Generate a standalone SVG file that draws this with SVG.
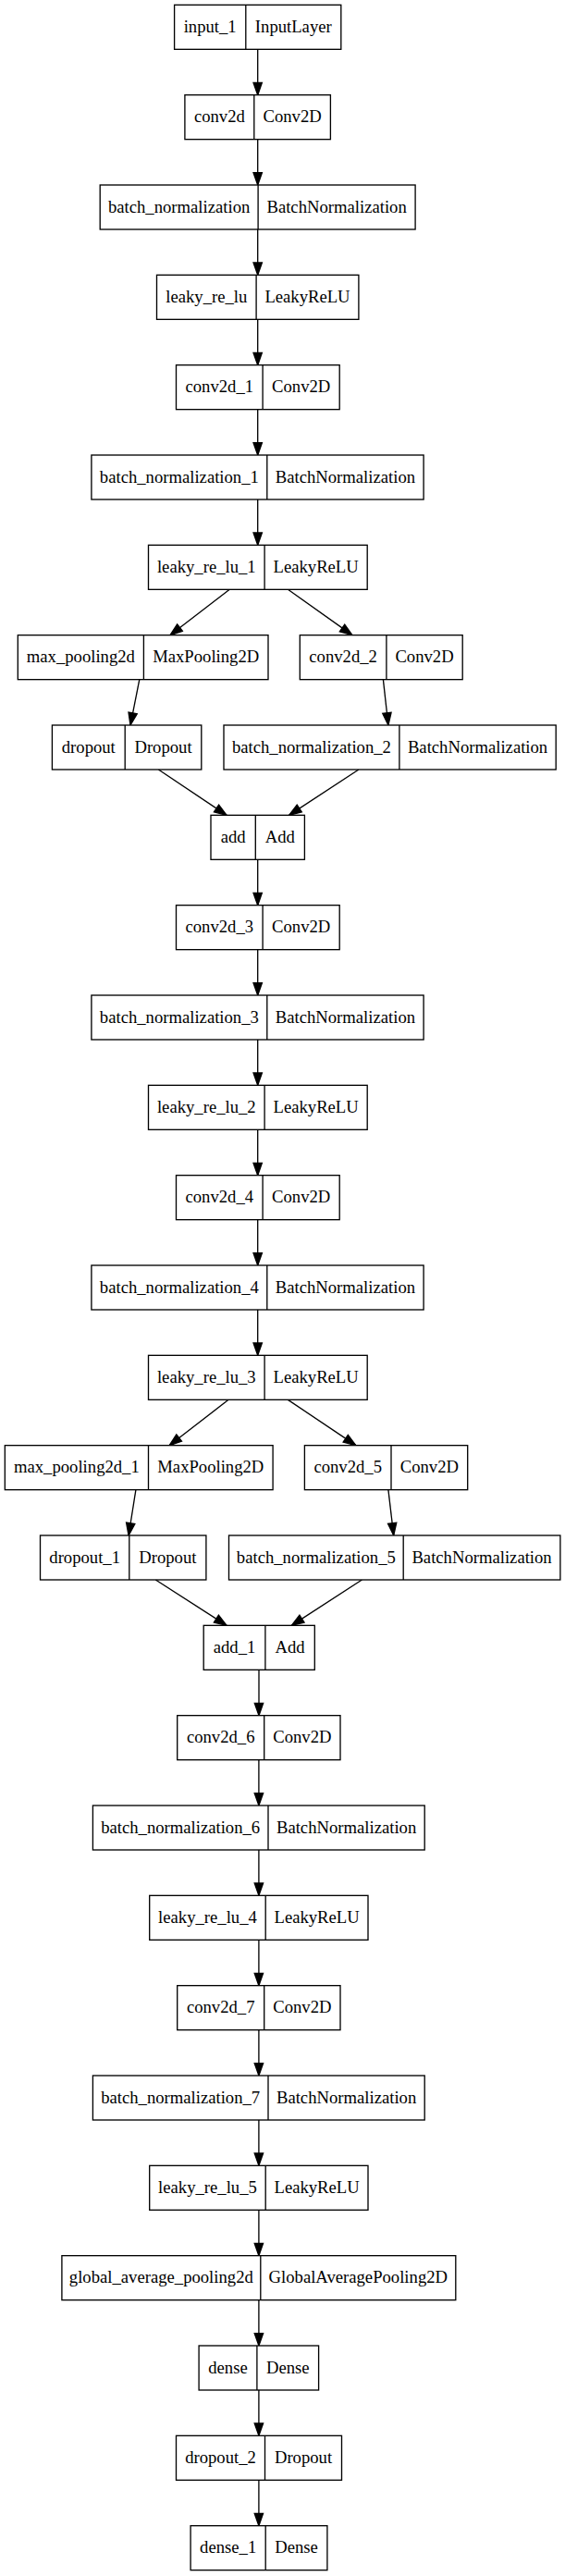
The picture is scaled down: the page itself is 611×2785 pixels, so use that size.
<svg xmlns="http://www.w3.org/2000/svg" width="611" height="2785" viewBox="0 0 611 2785">
<style>
.b{fill:#fff;stroke:#000;stroke-width:1.33}
.d{stroke:#000;stroke-width:1.33}
.t{font-family:"Liberation Serif","Times New Roman",serif;font-size:18.67px;fill:#000;text-anchor:middle}
.e{fill:none;stroke:#000;stroke-width:1.33;marker-end:url(#arr)}
</style>
<defs>
<marker id="arr" markerUnits="userSpaceOnUse" markerWidth="18" markerHeight="14" viewBox="-2 -7 18 14" refX="13.33" refY="0" orient="auto">
<path d="M0,-4.67 L13.33,0 L0,4.67 z" fill="#000" stroke="#000" stroke-width="1.33"/>
</marker>
</defs>
<rect x="0" y="0" width="611" height="2785" fill="#fff"/>
<g id="edges">
<path class="e" d="M278.7,53.33 V102.66"/>
<path class="e" d="M278.7,150.66 V200"/>
<path class="e" d="M278.7,248 V297.33"/>
<path class="e" d="M278.7,345.33 V394.66"/>
<path class="e" d="M278.7,442.66 V492"/>
<path class="e" d="M278.7,540 V589.33"/>
<path class="e" d="M248.3,637.33 L183.9,686.66"/>
<path class="e" d="M311.4,637.33 L380.9,686.66"/>
<path class="e" d="M150.8,734.66 L141,784"/>
<path class="e" d="M414.4,734.66 L419.9,784"/>
<path class="e" d="M171.4,832 L245.1,881.33"/>
<path class="e" d="M387.9,832 L312.6,881.33"/>
<path class="e" d="M278.7,929.33 V978.66"/>
<path class="e" d="M278.7,1026.66 V1076"/>
<path class="e" d="M278.7,1124 V1173.33"/>
<path class="e" d="M278.7,1221.33 V1270.66"/>
<path class="e" d="M278.7,1318.66 V1368"/>
<path class="e" d="M278.7,1416 V1465.33"/>
<path class="e" d="M247.1,1513.33 L183.1,1562.66"/>
<path class="e" d="M311.4,1513.33 L384.8,1562.66"/>
<path class="e" d="M146.9,1610.66 L139.1,1660"/>
<path class="e" d="M419.9,1610.66 L425.7,1660"/>
<path class="e" d="M168.3,1708 L245.1,1757.33"/>
<path class="e" d="M391.4,1708 L315.3,1757.33"/>
<path class="e" d="M280,1805.33 V1854.66"/>
<path class="e" d="M279.9,1902.66 V1952"/>
<path class="e" d="M279.9,2000 V2049.33"/>
<path class="e" d="M279.9,2097.33 V2146.66"/>
<path class="e" d="M279.9,2194.66 V2244"/>
<path class="e" d="M279.9,2292 V2341.33"/>
<path class="e" d="M279.9,2389.33 V2438.66"/>
<path class="e" d="M279.9,2486.66 V2536"/>
<path class="e" d="M279.9,2584 V2633.33"/>
<path class="e" d="M279.9,2681.33 V2730.66"/>
</g>
<g id="input_1"><rect class="b" x="188.6" y="5.33" width="180.2" height="48"/><line class="d" x1="265.8" y1="5.33" x2="265.8" y2="53.33"/><text class="t" x="227.2" y="34.8">input_1</text><text class="t" x="317.3" y="34.8">InputLayer</text></g>
<g id="conv2d"><rect class="b" x="199.9" y="102.66" width="157.5" height="48"/><line class="d" x1="274.8" y1="102.66" x2="274.8" y2="150.66"/><text class="t" x="237.35" y="132.1">conv2d</text><text class="t" x="316.1" y="132.1">Conv2D</text></g>
<g id="batch_normalization"><rect class="b" x="108.2" y="200" width="340.9" height="48"/><line class="d" x1="279.1" y1="200" x2="279.1" y2="248"/><text class="t" x="193.65" y="229.5">batch_normalization</text><text class="t" x="364.1" y="229.5">BatchNormalization</text></g>
<g id="leaky_re_lu"><rect class="b" x="169.5" y="297.33" width="218.4" height="48"/><line class="d" x1="277.1" y1="297.33" x2="277.1" y2="345.33"/><text class="t" x="223.3" y="326.8">leaky_re_lu</text><text class="t" x="332.5" y="326.8">LeakyReLU</text></g>
<g id="conv2d_1"><rect class="b" x="190.5" y="394.66" width="176.7" height="48"/><line class="d" x1="284.1" y1="394.66" x2="284.1" y2="442.66"/><text class="t" x="237.3" y="424.1">conv2d_1</text><text class="t" x="325.65" y="424.1">Conv2D</text></g>
<g id="batch_normalization_1"><rect class="b" x="98.9" y="492" width="359.2" height="48"/><line class="d" x1="288.8" y1="492" x2="288.8" y2="540"/><text class="t" x="193.85" y="521.5">batch_normalization_1</text><text class="t" x="373.45" y="521.5">BatchNormalization</text></g>
<g id="leaky_re_lu_1"><rect class="b" x="160.5" y="589.33" width="236.7" height="48"/><line class="d" x1="286.1" y1="589.33" x2="286.1" y2="637.33"/><text class="t" x="223.3" y="618.8">leaky_re_lu_1</text><text class="t" x="341.65" y="618.8">LeakyReLU</text></g>
<g id="max_pooling2d"><rect class="b" x="19.3" y="686.66" width="270.7" height="48"/><line class="d" x1="155.4" y1="686.66" x2="155.4" y2="734.66"/><text class="t" x="87.35" y="716.1">max_pooling2d</text><text class="t" x="222.7" y="716.1">MaxPooling2D</text></g>
<g id="conv2d_2"><rect class="b" x="324.3" y="686.66" width="175.9" height="48"/><line class="d" x1="417.9" y1="686.66" x2="417.9" y2="734.66"/><text class="t" x="371.1" y="716.1">conv2d_2</text><text class="t" x="459.05" y="716.1">Conv2D</text></g>
<g id="dropout"><rect class="b" x="56.4" y="784" width="161.4" height="48"/><line class="d" x1="135.2" y1="784" x2="135.2" y2="832"/><text class="t" x="95.8" y="813.5">dropout</text><text class="t" x="176.5" y="813.5">Dropout</text></g>
<g id="batch_normalization_2"><rect class="b" x="242" y="784" width="359.2" height="48"/><line class="d" x1="431.9" y1="784" x2="431.9" y2="832"/><text class="t" x="336.95" y="813.5">batch_normalization_2</text><text class="t" x="516.55" y="813.5">BatchNormalization</text></g>
<g id="add"><rect class="b" x="228" y="881.33" width="101.4" height="48"/><line class="d" x1="276.3" y1="881.33" x2="276.3" y2="929.33"/><text class="t" x="252.15" y="910.8">add</text><text class="t" x="302.85" y="910.8">Add</text></g>
<g id="conv2d_3"><rect class="b" x="190.5" y="978.66" width="176.7" height="48"/><line class="d" x1="284.1" y1="978.66" x2="284.1" y2="1026.66"/><text class="t" x="237.3" y="1008.1">conv2d_3</text><text class="t" x="325.65" y="1008.1">Conv2D</text></g>
<g id="batch_normalization_3"><rect class="b" x="98.9" y="1076" width="359.2" height="48"/><line class="d" x1="288.8" y1="1076" x2="288.8" y2="1124"/><text class="t" x="193.85" y="1105.5">batch_normalization_3</text><text class="t" x="373.45" y="1105.5">BatchNormalization</text></g>
<g id="leaky_re_lu_2"><rect class="b" x="160.5" y="1173.33" width="236.7" height="48"/><line class="d" x1="286.1" y1="1173.33" x2="286.1" y2="1221.33"/><text class="t" x="223.3" y="1202.8">leaky_re_lu_2</text><text class="t" x="341.65" y="1202.8">LeakyReLU</text></g>
<g id="conv2d_4"><rect class="b" x="190.5" y="1270.66" width="176.7" height="48"/><line class="d" x1="284.1" y1="1270.66" x2="284.1" y2="1318.66"/><text class="t" x="237.3" y="1300.1">conv2d_4</text><text class="t" x="325.65" y="1300.1">Conv2D</text></g>
<g id="batch_normalization_4"><rect class="b" x="98.9" y="1368" width="359.2" height="48"/><line class="d" x1="288.8" y1="1368" x2="288.8" y2="1416"/><text class="t" x="193.85" y="1397.5">batch_normalization_4</text><text class="t" x="373.45" y="1397.5">BatchNormalization</text></g>
<g id="leaky_re_lu_3"><rect class="b" x="160.5" y="1465.33" width="236.7" height="48"/><line class="d" x1="286.1" y1="1465.33" x2="286.1" y2="1513.33"/><text class="t" x="223.3" y="1494.8">leaky_re_lu_3</text><text class="t" x="341.65" y="1494.8">LeakyReLU</text></g>
<g id="max_pooling2d_1"><rect class="b" x="5.3" y="1562.66" width="289.8" height="48"/><line class="d" x1="160.5" y1="1562.66" x2="160.5" y2="1610.66"/><text class="t" x="82.9" y="1592.1">max_pooling2d_1</text><text class="t" x="227.8" y="1592.1">MaxPooling2D</text></g>
<g id="conv2d_5"><rect class="b" x="329.4" y="1562.66" width="176.3" height="48"/><line class="d" x1="423" y1="1562.66" x2="423" y2="1610.66"/><text class="t" x="376.2" y="1592.1">conv2d_5</text><text class="t" x="464.35" y="1592.1">Conv2D</text></g>
<g id="dropout_1"><rect class="b" x="43.5" y="1660" width="179.4" height="48"/><line class="d" x1="139.8" y1="1660" x2="139.8" y2="1708"/><text class="t" x="91.65" y="1689.5">dropout_1</text><text class="t" x="181.35" y="1689.5">Dropout</text></g>
<g id="batch_normalization_5"><rect class="b" x="247.5" y="1660" width="358.4" height="48"/><line class="d" x1="436.2" y1="1660" x2="436.2" y2="1708"/><text class="t" x="341.85" y="1689.5">batch_normalization_5</text><text class="t" x="521.05" y="1689.5">BatchNormalization</text></g>
<g id="add_1"><rect class="b" x="220.2" y="1757.33" width="120.1" height="48"/><line class="d" x1="286.9" y1="1757.33" x2="286.9" y2="1805.33"/><text class="t" x="253.55" y="1786.8">add_1</text><text class="t" x="313.6" y="1786.8">Add</text></g>
<g id="conv2d_6"><rect class="b" x="191.7" y="1854.66" width="176.3" height="48"/><line class="d" x1="285.7" y1="1854.66" x2="285.7" y2="1902.66"/><text class="t" x="238.7" y="1884.1">conv2d_6</text><text class="t" x="326.85" y="1884.1">Conv2D</text></g>
<g id="batch_normalization_6"><rect class="b" x="100.4" y="1952" width="358.8" height="48"/><line class="d" x1="290" y1="1952" x2="290" y2="2000"/><text class="t" x="195.2" y="1981.5">batch_normalization_6</text><text class="t" x="374.6" y="1981.5">BatchNormalization</text></g>
<g id="leaky_re_lu_4"><rect class="b" x="161.7" y="2049.33" width="236.3" height="48"/><line class="d" x1="287.2" y1="2049.33" x2="287.2" y2="2097.33"/><text class="t" x="224.45" y="2078.8">leaky_re_lu_4</text><text class="t" x="342.6" y="2078.8">LeakyReLU</text></g>
<g id="conv2d_7"><rect class="b" x="191.7" y="2146.66" width="176.3" height="48"/><line class="d" x1="285.7" y1="2146.66" x2="285.7" y2="2194.66"/><text class="t" x="238.7" y="2176.1">conv2d_7</text><text class="t" x="326.85" y="2176.1">Conv2D</text></g>
<g id="batch_normalization_7"><rect class="b" x="100.4" y="2244" width="358.8" height="48"/><line class="d" x1="290" y1="2244" x2="290" y2="2292"/><text class="t" x="195.2" y="2273.5">batch_normalization_7</text><text class="t" x="374.6" y="2273.5">BatchNormalization</text></g>
<g id="leaky_re_lu_5"><rect class="b" x="161.7" y="2341.33" width="236.3" height="48"/><line class="d" x1="287.2" y1="2341.33" x2="287.2" y2="2389.33"/><text class="t" x="224.45" y="2370.8">leaky_re_lu_5</text><text class="t" x="342.6" y="2370.8">LeakyReLU</text></g>
<g id="global_average_pooling2d"><rect class="b" x="66.9" y="2438.66" width="425.9" height="48"/><line class="d" x1="281.8" y1="2438.66" x2="281.8" y2="2486.66"/><text class="t" x="174.35" y="2468.1">global_average_pooling2d</text><text class="t" x="387.3" y="2468.1">GlobalAveragePooling2D</text></g>
<g id="dense"><rect class="b" x="215.1" y="2536" width="129.5" height="48"/><line class="d" x1="277.9" y1="2536" x2="277.9" y2="2584"/><text class="t" x="246.5" y="2565.5">dense</text><text class="t" x="311.25" y="2565.5">Dense</text></g>
<g id="dropout_2"><rect class="b" x="190.5" y="2633.33" width="179" height="48"/><line class="d" x1="286.5" y1="2633.33" x2="286.5" y2="2681.33"/><text class="t" x="238.5" y="2662.8">dropout_2</text><text class="t" x="328" y="2662.8">Dropout</text></g>
<g id="dense_1"><rect class="b" x="206.1" y="2730.66" width="147.8" height="48"/><line class="d" x1="287.2" y1="2730.66" x2="287.2" y2="2778.66"/><text class="t" x="246.65" y="2760.1">dense_1</text><text class="t" x="320.55" y="2760.1">Dense</text></g>
</svg>
